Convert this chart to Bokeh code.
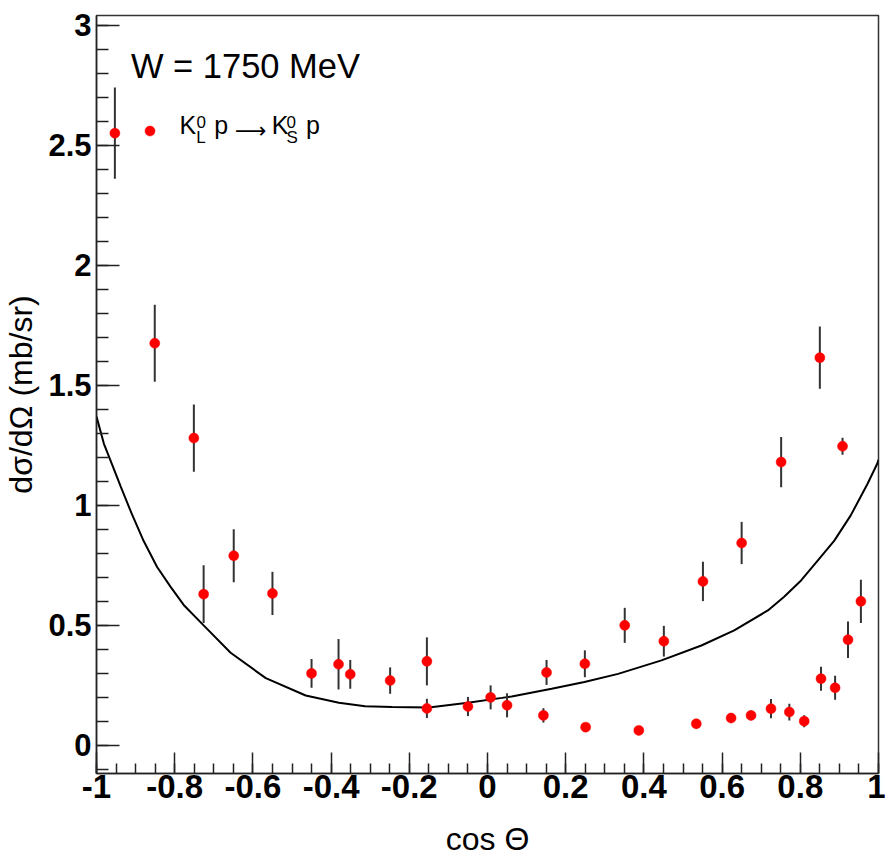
import numpy as np
from bokeh.plotting import figure
from bokeh.models import (Range1d, FixedTicker, Label, Legend, LegendItem,
                          ColumnDataSource)
from bokeh.embed import file_html
from bokeh.resources import INLINE

# ---- data ----
cos_theta = [-0.953, -0.851, -0.751, -0.726, -0.649, -0.550, -0.450, -0.381,
             -0.351, -0.249, -0.155, -0.155, -0.050, 0.008, 0.050, 0.143,
             0.151, 0.249, 0.251, 0.351, 0.387, 0.451, 0.534, 0.551, 0.623,
             0.650, 0.674, 0.725, 0.751, 0.772, 0.810, 0.850, 0.853, 0.889,
             0.908, 0.922, 0.955]
dsigma = [2.55, 1.675, 1.28, 0.63, 0.79, 0.633, 0.30, 0.338,
          0.296, 0.27, 0.35, 0.154, 0.162, 0.20, 0.167, 0.125,
          0.304, 0.34, 0.076, 0.50, 0.0625, 0.434, 0.09, 0.683, 0.114,
          0.843, 0.125, 0.153, 1.18, 0.139, 0.101, 1.615, 0.278, 0.24,
          1.246, 0.44, 0.60]
dsigma_err = [0.19, 0.16, 0.14, 0.12, 0.11, 0.09, 0.06, 0.105,
              0.06, 0.055, 0.10, 0.04, 0.04, 0.05, 0.05, 0.03,
              0.052, 0.056, 0.012, 0.073, 0.01, 0.064, 0.02, 0.082, 0.02,
              0.088, 0.02, 0.04, 0.105, 0.035, 0.025, 0.13, 0.05, 0.05,
              0.035, 0.076, 0.09]

model_x = [-1.0, -0.981, -0.961, -0.938, -0.91, -0.879, -0.845, -0.81, -0.777,
           -0.726, -0.657, -0.567, -0.465, -0.38, -0.313, -0.244, -0.15, -0.05,
           0.037, 0.062, 0.164, 0.248, 0.334, 0.445, 0.547, 0.631, 0.717, 0.758,
           0.802, 0.845, 0.887, 0.929, 0.972, 0.997, 1.0]
model_y = [1.37, 1.256, 1.174, 1.078, 0.965, 0.85, 0.743, 0.659, 0.585,
           0.50, 0.386, 0.28, 0.208, 0.178, 0.163, 0.160, 0.158, 0.178,
           0.198, 0.204, 0.236, 0.264, 0.298, 0.354, 0.416, 0.479, 0.562, 0.618,
           0.687, 0.771, 0.853, 0.958, 1.09, 1.174, 1.19]

x_ticks = [-1, -0.8, -0.6, -0.4, -0.2, 0, 0.2, 0.4, 0.6, 0.8, 1]
x_tick_labels = ["-1", "-0.8", "-0.6", "-0.4", "-0.2", "0", "0.2", "0.4", "0.6", "0.8", "1"]
y_ticks = [0, 0.5, 1, 1.5, 2, 2.5, 3]
y_tick_labels = ["0", "0.5", "1", "1.5", "2", "2.5", "3"]

title_text = "W = 1750 MeV"
x_title = "cos \u0398"
y_title = "d\u03c3/d\u03a9 (mb/sr)"

FONT = "Liberation Sans"

p = figure(width=885, height=862, output_backend="svg", toolbar_location=None,
           x_range=Range1d(-1, 1), y_range=Range1d(-0.117, 3.04),
           min_border_left=93, min_border_right=7, min_border_top=15,
           min_border_bottom=89)
p.grid.visible = False
p.outline_line_color = "#333333"
p.outline_line_width = 1.5
p.background_fill_color = "white"
p.border_fill_color = "white"

# axes
xminor = [round(v, 3) for v in np.arange(-1, 1.0001, 0.05)]
yminor = [round(v, 3) for v in np.arange(-0.1, 3.04, 0.1)]
p.xaxis.ticker = FixedTicker(ticks=x_ticks, minor_ticks=xminor)
p.yaxis.ticker = FixedTicker(ticks=y_ticks, minor_ticks=yminor)
p.xaxis.major_label_overrides = {t: l for t, l in zip(x_ticks, x_tick_labels)}
p.yaxis.major_label_overrides = {t: l for t, l in zip(y_ticks, y_tick_labels)}

for ax in (p.xaxis, p.yaxis):
    ax.major_tick_out = 0
    ax.minor_tick_out = 0
    ax.major_tick_line_color = "#222222"
    ax.minor_tick_line_color = "#222222"
    ax.major_tick_line_width = 1.5
    ax.minor_tick_line_width = 1.5
    ax.axis_line_color = "#222222"
    ax.axis_line_width = 1.5
    ax.major_label_text_font = FONT
    ax.major_label_text_font_style = "bold"
    ax.major_label_text_color = "black"
    ax.axis_label_text_font = FONT
    ax.axis_label_text_font_style = "normal"
    ax.axis_label_text_font_size = "32px"
    ax.axis_label_text_color = "black"

p.xaxis.axis_label = x_title
p.yaxis.axis_label = y_title
p.xaxis.axis_label_standoff = 20
p.xaxis.axis_label_text_line_height = 0.1
p.yaxis.axis_label_standoff = 6

p.xaxis.major_tick_in = 21
p.xaxis.minor_tick_in = 10
p.yaxis.major_tick_in = 23
p.yaxis.minor_tick_in = 12
p.xaxis.major_label_text_font_size = "33px"
p.yaxis.major_label_text_font_size = "31px"
p.xaxis.major_label_standoff = 1
p.yaxis.major_label_standoff = 5

# model curve
p.line(model_x, model_y, line_color="black", line_width=2)

# error bars + points
lo = [v - e for v, e in zip(dsigma, dsigma_err)]
hi = [v + e for v, e in zip(dsigma, dsigma_err)]
src = ColumnDataSource(dict(x=cos_theta, y=dsigma, lo=lo, hi=hi))
p.segment(x0="x", y0="lo", x1="x", y1="hi", source=src,
          line_color="#333333", line_width=2)
pts = p.scatter("x", "y", source=src, size=10, fill_color="red",
                line_color="red", line_width=0.5)

# legend (glyph only, label drawn manually with sub/superscripts)
leg = Legend(items=[LegendItem(label=" ", renderers=[pts])],
             location=(40.5, 630.5), padding=0, spacing=0, margin=0,
             glyph_width=25, glyph_height=25, label_height=10,
             label_text_font_size="1px", background_fill_alpha=0,
             border_line_alpha=0)
p.add_layout(leg)

def lab(x, y, text, size, font=FONT, **kw):
    p.add_layout(Label(x=x, y=y, text=text, text_font=font,
                       text_font_size=size, text_color="black", **kw))

# title
lab(-0.912, 2.75, title_text, "34.5px")

# legend text: K_L^0 p -> K_S^0 p
lab(-0.788, 2.525, "K", "25px")
lab(-0.744, 2.573, "0", "17px")
lab(-0.745, 2.494, "L", "17px")
lab(-0.699, 2.525, "p", "25px")
lab(-0.646, 2.560, "\u27f6", "22px", font="DejaVu Sans", text_baseline="middle")
lab(-0.552, 2.525, "K", "25px")
lab(-0.514, 2.573, "0", "17px")
lab(-0.514, 2.494, "S", "17px")
lab(-0.464, 2.525, "p", "25px")

open("out.html", "w").write(file_html(p, INLINE))
